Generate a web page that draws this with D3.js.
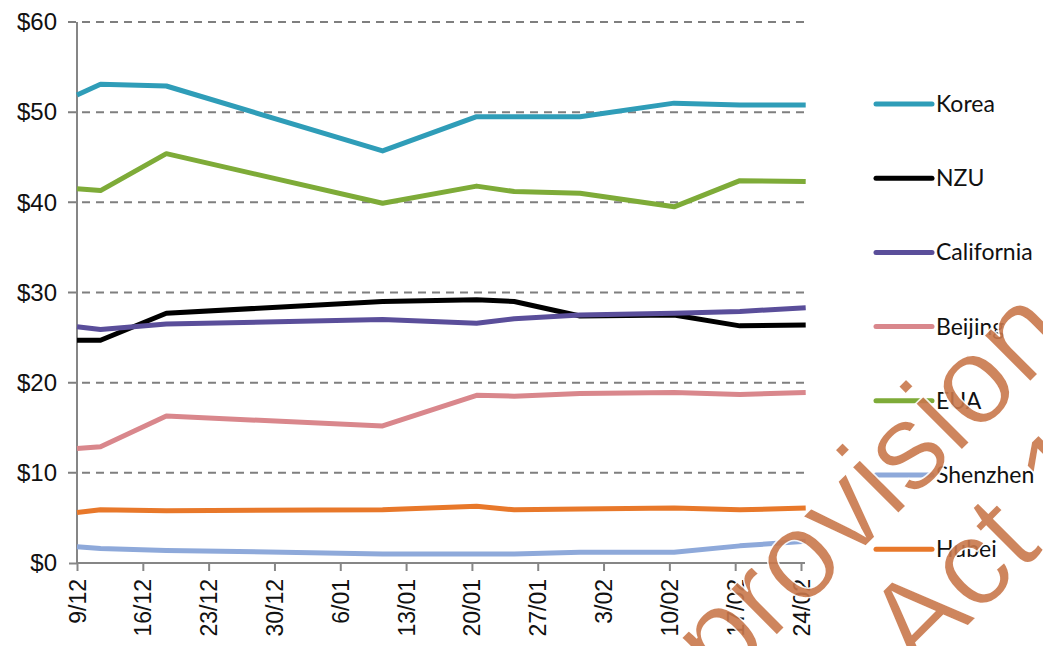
<!DOCTYPE html>
<html>
<head>
<meta charset="utf-8">
<script src="https://cdn.jsdelivr.net/npm/d3@7"></script>
<style>
	body { margin: 0; background: #fff; }
	svg { display: block; font-family: Lato, 'Open Sans', sans-serif; }
</style>
</head>
<body>
<div id="chart"></div>
<script>
// data
var dates      = ['2013-12-09', '2013-12-11', '2013-12-18', '2014-01-10', '2014-01-20', '2014-01-24', '2014-01-31', '2014-02-10', '2014-02-17', '2014-02-24']
var tickDates  = ['2013-12-09', '2013-12-16', '2013-12-23', '2013-12-30', '2014-01-06', '2014-01-13', '2014-01-20', '2014-01-27', '2014-02-03', '2014-02-10', '2014-02-17', '2014-02-24']
var yTicks     = [0, 10, 20, 30, 40, 50, 60]
var seriesNames = ['Korea', 'NZU', 'California', 'Beijing', 'EUA', 'Shenzhen', 'Hubei']
var seriesColors = ['#2f9db8', '#000000', '#5a4e9a', '#d9878c', '#7eab38', '#8ea9da', '#e8782a']

var korea      = [51.9, 53.1, 52.9, 45.7, 49.5, 49.5, 49.5, 51.0, 50.8, 50.8]
var nzu        = [24.7, 24.7, 27.7, 29.0, 29.2, 29.0, 27.4, 27.5, 26.3, 26.4]
var california = [26.2, 25.9, 26.5, 27.0, 26.6, 27.1, 27.5, 27.7, 27.9, 28.3]
var beijing    = [12.7, 12.9, 16.3, 15.2, 18.6, 18.5, 18.8, 18.9, 18.7, 18.9]
var eua        = [41.5, 41.3, 45.4, 39.9, 41.8, 41.2, 41.0, 39.5, 42.4, 42.3]
var shenzhen   = [1.8, 1.6, 1.4, 1.0, 1.0, 1.0, 1.2, 1.2, 1.9, 2.4]
var hubei      = [5.6, 5.9, 5.8, 5.9, 6.3, 5.9, 6.0, 6.1, 5.9, 6.1]

var seriesValues = [korea, nzu, california, beijing, eua, shenzhen, hubei]

var W = 1043, H = 646
var parse = d3.timeParse('%Y-%m-%d')

var svg = d3.select('#chart')
			.append('svg')
			.attr('width', W)
			.attr('height', H)

//scales
var x = d3.scaleTime()
		  .domain([parse(tickDates[0]), parse(tickDates[tickDates.length - 1])])
		  .range([77, 801])
var y = d3.scaleLinear()
		  .domain([0, 60])
		  .range([563, 22])

//dashed gridlines
svg.append('g')
   .selectAll('line')
   .data(yTicks.filter(function(d){ return d > 0 }))
   .enter().append('line')
   .attr('x1', 68)
   .attr('x2', 806)
   .attr('y1', function(d){ return y(d) })
   .attr('y2', function(d){ return y(d) })
   .style('stroke', '#7f7f7f')
   .style('stroke-width', 2)
   .style('stroke-dasharray', '8,6')

//y axis
var yAxis = svg.append('g')
			   .attr('transform', 'translate(77,0)')
			   .call(d3.axisLeft(y).tickValues(yTicks).tickSize(8).tickPadding(12)
			   		.tickFormat(function(d){ return '$' + d }))
yAxis.selectAll('path, line').style('stroke', '#868686').style('stroke-width', 2)
yAxis.select('.domain').attr('d', 'M0,' + y(60) + 'V' + y(0))
yAxis.selectAll('text')
	 .attr('font-family', null)
	 .style('font-size', '24px')
	 .style('fill', '#111')
yAxis.selectAll('.tick line').filter(function(d){ return d > 0 }).remove()

//x axis
var xAxis = svg.append('g')
			   .attr('transform', 'translate(0,' + y(0) + ')')
			   .call(d3.axisBottom(x).tickValues(tickDates.map(parse)).tickSize(8)
			   		.tickFormat(d3.timeFormat('%-d/%m')))
xAxis.selectAll('path, line').style('stroke', '#868686').style('stroke-width', 2)
xAxis.select('.domain').attr('d', 'M77,0H805')
xAxis.selectAll('text')
	 .attr('font-family', null)
	 .style('font-size', '23px')
	 .style('fill', '#111')
	 .attr('text-anchor', 'end')
	 .attr('transform', 'rotate(-90)')
	 .attr('x', -16)
	 .attr('y', 0)
	 .attr('dy', '.35em')

//lines (points sit mid-day like the spreadsheet date axis)
var line = d3.line()
			 .x(function(d, i){ return i == 0 ? x(parse(d.date)) : x(d3.timeHour.offset(parse(d.date), 12)) })
			 .y(function(d){ return y(d.value) })

seriesNames.forEach(function(name, i){
	var pts = dates.map(function(dt, j){ return {date: dt, value: seriesValues[i][j]} })
	svg.append('path')
	   .datum(pts)
	   .attr('d', line)
	   .style('fill', 'none')
	   .style('stroke', seriesColors[i])
	   .style('stroke-width', 5)
	   .style('stroke-linejoin', 'round')
})

//legend
var legend = svg.selectAll('.legend')
				.data(seriesNames)
				.enter().append('g')
				.attr('class', 'legend')
				.attr('transform', function(d, i){ return 'translate(876,' + (104 + i * 74.2) + ')' })
legend.append('line')
	  .attr('x1', 0)
	  .attr('x2', 56)
	  .style('stroke', function(d, i){ return seriesColors[i] })
	  .style('stroke-width', 5)
	  .style('stroke-linecap', 'round')
legend.append('text')
	  .attr('x', 60)
	  .attr('dy', '.35em')
	  .style('font-size', '23px')
	  .style('fill', '#111')
	  .text(String)

//watermark stamped over the picture
var wm = svg.append('g')
			.style('font-family', "'Liberation Sans', Arial, sans-serif")
			.style('font-size', '124px')
			.style('fill', '#c9784c')
			.style('stroke', '#fff')
			.style('stroke-width', 1.5)
			.style('opacity', 0.9)
wm.append('text')
  .attr('transform', 'translate(722,690) rotate(-45)')
  .text('provision of the')
wm.append('text')
  .attr('transform', 'translate(918,676) rotate(-45)')
  .text('Act 1982')
</script>
</body>
</html>
